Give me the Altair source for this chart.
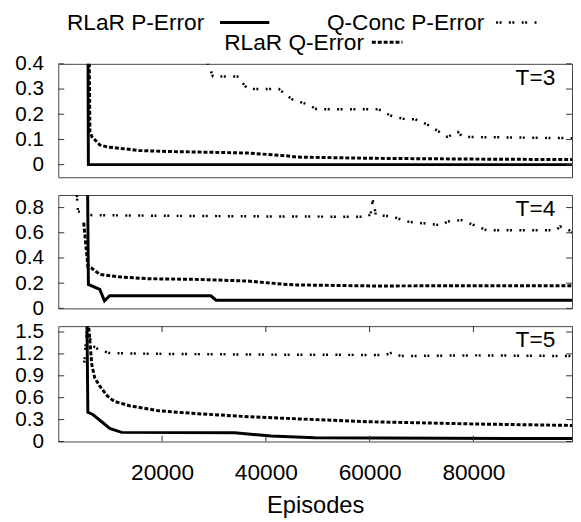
import altair as alt
import pandas as pd

FONT = "Liberation Sans"

# ---------------- data ----------------
SERIES = ["RLaR P-Error", "Q-Conc P-Error", "RLaR Q-Error"]
PANELS = ["T=3", "T=4", "T=5"]
EPISODE_TICKS = [20000, 40000, 60000, 80000]
X_DOMAIN = [0, 99000]
Y_DOMAINS = [[-0.05, 0.4], [0, 0.9], [0, 1.58]]
Y_TICKS = [[0, 0.1, 0.2, 0.3, 0.4], [0, 0.2, 0.4, 0.6, 0.8], [0, 0.3, 0.6, 0.9, 1.2, 1.5]]

# T=3
t3_rlar_p_ep = [5600, 5800, 99000]
t3_rlar_p_val = [1.2, 0.0, 0.0]
t3_qconc_p_ep = [4000, 12000, 20000, 28900, 29800, 34500, 36500, 42500, 45000, 47900, 49800,
                 61700, 64000, 66900, 68800, 71300, 73200, 75000, 77000, 77900, 99000]
t3_qconc_p_val = [0.9, 0.65, 0.5, 0.4, 0.35, 0.35, 0.3, 0.3, 0.26, 0.24, 0.22,
                  0.22, 0.195, 0.18, 0.18, 0.157, 0.133, 0.11, 0.13, 0.11, 0.105]
t3_rlar_q_ep = [5600, 6100, 6500, 7000, 8000, 9500, 11800, 15600, 21300, 27000, 36500, 44000,
                46000, 61000, 80000, 99000]
t3_rlar_q_val = [1.2, 0.13, 0.11, 0.1, 0.078, 0.07, 0.065, 0.056, 0.052, 0.05, 0.046, 0.035,
                 0.03, 0.025, 0.022, 0.02]

# T=4
t4_rlar_p_ep = [5600, 5800, 8000, 8900, 9900, 29400, 30400, 99000]
t4_rlar_p_val = [1.2, 0.19, 0.15, 0.06, 0.1, 0.1, 0.065, 0.065]
t4_qconc_p_ep = [3400, 3800, 6500, 20000, 40000, 59600, 60200, 60600, 60800, 61200, 64400, 66900,
                 73900, 75000, 77700, 80200, 82600, 95900, 96700, 98200, 99000]
t4_qconc_p_val = [1.0, 0.77, 0.74, 0.735, 0.73, 0.727, 0.75, 0.857, 0.83, 0.74, 0.73, 0.69,
                  0.66, 0.69, 0.70, 0.66, 0.62, 0.62, 0.65, 0.63, 0.6]
t4_rlar_q_ep = [4900, 5700, 6400, 8000, 11800, 17500, 27000, 36500, 44000, 46000, 61000, 80000, 99000]
t4_rlar_q_val = [0.68, 0.33, 0.32, 0.27, 0.25, 0.235, 0.23, 0.217, 0.19, 0.186, 0.178, 0.18, 0.18]

# T=5
t5_rlar_p_ep = [5500, 5700, 6650, 8550, 9900, 12200, 34000, 41000, 49400, 99000]
t5_rlar_p_val = [1.8, 0.40, 0.37, 0.26, 0.18, 0.125, 0.12, 0.075, 0.05, 0.04]
t5_qconc_p_ep = [5000, 5600, 6400, 8000, 10000, 20000, 40000, 63000, 64400, 66000, 80000, 99000]
t5_qconc_p_val = [1.08, 1.62, 1.32, 1.25, 1.21, 1.2, 1.19, 1.185, 1.22, 1.17, 1.18, 1.17]
t5_rlar_q_ep = [5600, 6460, 7030, 7980, 9500, 10800, 13700, 19400, 27000, 36500, 46000, 60000, 80000, 99000]
t5_rlar_q_val = [1.8, 1.05, 0.87, 0.76, 0.62, 0.55, 0.49, 0.42, 0.38, 0.34, 0.31, 0.27, 0.24, 0.22]

RAW = {
    "T=3": [(t3_rlar_p_ep, t3_rlar_p_val), (t3_qconc_p_ep, t3_qconc_p_val), (t3_rlar_q_ep, t3_rlar_q_val)],
    "T=4": [(t4_rlar_p_ep, t4_rlar_p_val), (t4_qconc_p_ep, t4_qconc_p_val), (t4_rlar_q_ep, t4_rlar_q_val)],
    "T=5": [(t5_rlar_p_ep, t5_rlar_p_val), (t5_qconc_p_ep, t5_qconc_p_val), (t5_rlar_q_ep, t5_rlar_q_val)],
}

# ---------------- styles ----------------
W = 521
PANEL_H = [115, 115, 117]
LABEL_SIZE = 21
STYLE = {
    "RLaR P-Error": dict(strokeWidth=3),
    "Q-Conc P-Error": dict(strokeWidth=2.5, strokeDash=[2, 1.5, 2, 7.5]),
    "RLaR Q-Error": dict(strokeWidth=3, strokeDash=[4, 2]),
}
# legend placement (pixels relative to top-left of first panel)
LEGEND_POS = {
    "RLaR P-Error": dict(tx=148, ty=-52, lx1=164, lx2=214),
    "Q-Conc P-Error": dict(tx=432, ty=-52, lx1=444, lx2=485),
    "RLaR Q-Error": dict(tx=310, ty=-32, lx1=318, lx2=349),
}
TICK_LEN = 6
TICK_COLOR = "#333"


def panel(i):
    name = PANELS[i]
    H = PANEL_H[i]
    rows = []
    for s, (eps, vals) in zip(SERIES, RAW[name]):
        for e, v in zip(eps, vals):
            rows.append({"series": s, "ep": e, "val": v})
    df = pd.DataFrame(rows)

    last = i == len(PANELS) - 1
    xaxis = alt.Axis(values=EPISODE_TICKS, ticks=False, tickSize=0, domain=False, grid=False,
                     labelFont=FONT, labelFontSize=23, labelColor="black", labelPadding=21,
                     labelFlush=False, format="d",
                     title="Episodes", titleFont=FONT, titleFontSize=24, titleFontWeight="normal",
                     titleColor="black", titlePadding=9) if last else None
    x = alt.X("ep:Q", scale=alt.Scale(domain=X_DOMAIN, nice=False, zero=False), axis=xaxis)
    y = alt.Y("val:Q", scale=alt.Scale(domain=Y_DOMAINS[i], nice=False, zero=False),
              axis=alt.Axis(values=Y_TICKS[i], format=".1~f", ticks=False, tickSize=0, domain=False,
                            grid=False, labelFont=FONT, labelFontSize=LABEL_SIZE, labelColor="black",
                            labelPadding=15, labelOverlap=False, title=None))

    layers = []
    for s in SERIES:
        layers.append(
            alt.Chart(df[df.series == s]).mark_line(clip=True, color="black", **STYLE[s]).encode(x=x, y=y)
        )

    tdf = pd.DataFrame({"val": Y_TICKS[i]})
    layers.append(alt.Chart(tdf).mark_rule(color=TICK_COLOR, strokeWidth=1).encode(
        y=y, x=alt.value(0), x2=alt.value(TICK_LEN)))
    layers.append(alt.Chart(tdf).mark_rule(color=TICK_COLOR, strokeWidth=1).encode(
        y=y, x=alt.value(W - TICK_LEN), x2=alt.value(W)))

    if last:
        xdf = pd.DataFrame({"ep": EPISODE_TICKS})
        layers.append(alt.Chart(xdf).mark_rule(color=TICK_COLOR, strokeWidth=1).encode(
            x=x, y=alt.value(0), y2=alt.value(TICK_LEN)))
        layers.append(alt.Chart(xdf).mark_rule(color=TICK_COLOR, strokeWidth=1).encode(
            x=x, y=alt.value(H - TICK_LEN), y2=alt.value(H)))

    layers.append(alt.Chart(pd.DataFrame({"label": [name]})).mark_text(
        align="right", baseline="top", font=FONT, fontSize=23, color="black").encode(
        x=alt.value(W - 17), y=alt.value(3), text="label:N"))

    if i == 0:
        for s in SERIES:
            p = LEGEND_POS[s]
            ldf = pd.DataFrame({"series": [s]})
            layers.append(alt.Chart(ldf).mark_text(
                align="right", baseline="top", font=FONT, fontSize=23, color="black").encode(
                x=alt.value(p["tx"]), y=alt.value(p["ty"]), text="series:N"))
            layers.append(alt.Chart(ldf).mark_rule(color="black", **STYLE[s]).encode(
                x=alt.value(p["lx1"]), x2=alt.value(p["lx2"]), y=alt.value(p["ty"] + 10)))

    return alt.layer(*layers).properties(width=W, height=H)


chart = alt.vconcat(*[panel(i) for i in range(3)], spacing=18, bounds="flush").properties(
    padding={"left": 6, "top": 0, "right": 0, "bottom": 0}
).configure_view(stroke="#444", strokeWidth=1)

chart.save("out.html", embed_options={"renderer": "svg", "actions": False})
